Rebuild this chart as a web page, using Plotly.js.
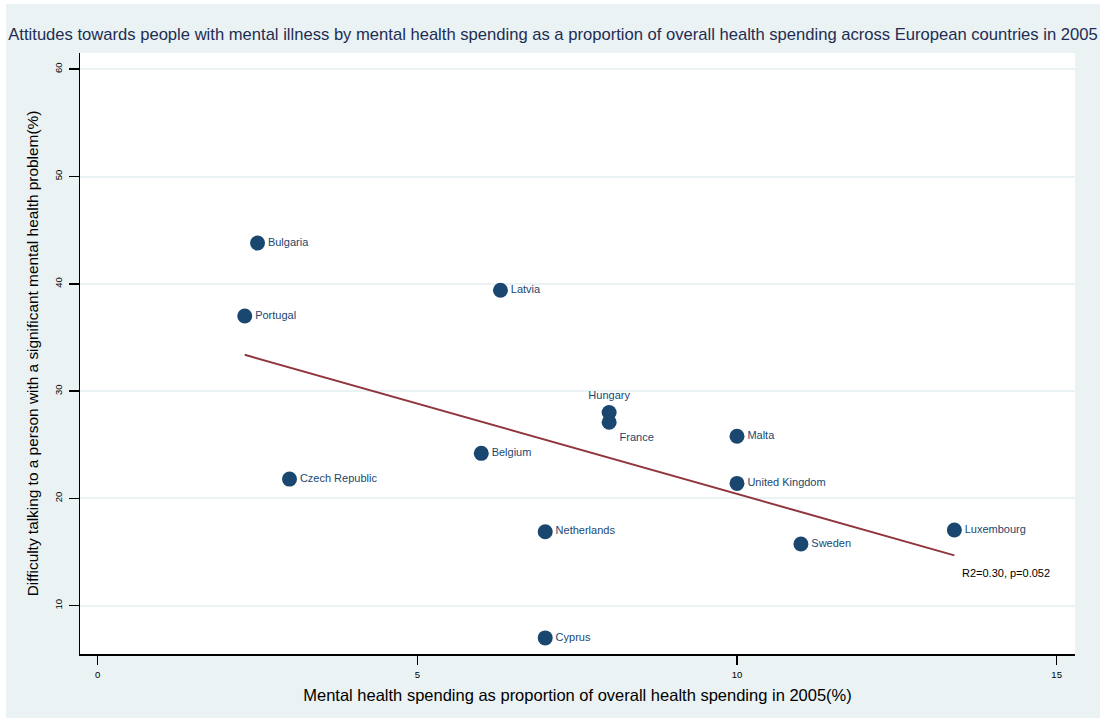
<!DOCTYPE html>
<html>
<head>
<meta charset="utf-8">
<script src="https://cdn.plot.ly/plotly-3.0.1.min.js"></script>
<style>
  html, body { margin: 0; padding: 0; background: #ffffff; }
  #chart { position: absolute; left: 6px; top: 4px; width: 1094px; height: 714px; }
</style>
</head>
<body>
<div id="chart"></div>
<script>
// Country-level values
const countries = ["Bulgaria", "Latvia", "Portugal", "Hungary", "France", "Malta", "Belgium",
                   "Czech Republic", "United Kingdom", "Netherlands", "Sweden", "Luxembourg", "Cyprus"];
// Mental health spending as % of overall health spending, 2005
const spending = [2.5, 6.3, 2.3, 8.0, 8.0, 10.0, 6.0, 3.0, 10.0, 7.0, 11.0, 13.4, 7.0];
// % reporting difficulty talking to a person with a significant mental health problem
const difficulty = [43.8, 39.4, 37.0, 28.0, 27.1, 25.8, 24.2, 21.8, 21.4, 16.9, 15.75, 17.05, 7.0];
// Where each marker label sits relative to its marker
const labelPos = ["middle right", "middle right", "middle right", "top center", "bottom right",
                  "middle right", "middle right", "middle right", "middle right", "middle right",
                  "middle right", "middle right", "middle right"];
const fitNote = "R2=0.30, p=0.052";
const xTicks = [0, 5, 10, 15];
const yTicks = [10, 20, 30, 40, 50, 60];

// Ordinary least squares fit of difficulty on spending
function olsFit(xs, ys) {
  const n = xs.length;
  const mx = xs.reduce((a, b) => a + b, 0) / n;
  const my = ys.reduce((a, b) => a + b, 0) / n;
  let sxy = 0, sxx = 0;
  for (let i = 0; i < n; i++) {
    sxy += (xs[i] - mx) * (ys[i] - my);
    sxx += (xs[i] - mx) * (xs[i] - mx);
  }
  const slope = sxy / sxx;
  return { slope: slope, intercept: my - slope * mx };
}
const fit = olsFit(spending, difficulty);
const xMin = Math.min(...spending), xMax = Math.max(...spending);
const fitX = [xMin, xMax];
const fitY = fitX.map(x => fit.intercept + fit.slope * x);

const navy = "#1a476f";
const maroon = "#90353b";
const bluishGray = "#eaf2f3";
const fontFam = "Liberation Sans, Arial, sans-serif";

const points = {
  type: "scatter",
  mode: "markers+text",
  x: spending,
  y: difficulty,
  text: countries,
  textposition: labelPos,
  textfont: { family: fontFam, size: 11, color: navy },
  marker: { color: navy, size: 15, line: { width: 0 } },
  hoverinfo: "text",
  showlegend: false,
  cliponaxis: false
};

const fitLine = {
  type: "scatter",
  mode: "lines",
  x: fitX,
  y: fitY,
  line: { color: maroon, width: 2 },
  hoverinfo: "skip",
  showlegend: false
};

const layout = {
  width: 1094,
  height: 714,
  paper_bgcolor: bluishGray,
  plot_bgcolor: "#ffffff",
  margin: { l: 74, r: 25, t: 49, b: 64 },
  font: { family: fontFam, color: "#000000" },
  title: {
    text: "Attitudes towards people with mental illness by mental health spending as a proportion of overall health spending across European countries in 2005",
    font: { size: 16.6, color: "#1e2d53", family: fontFam },
    x: 0.5,
    xanchor: "center",
    y: 1 - 30 / 714,
    yanchor: "middle",
    yref: "container"
  },
  xaxis: {
    range: [-0.277, 15.287],
    tickvals: xTicks,
    ticktext: xTicks.map(String),
    ticks: "outside",
    ticklen: 9,
    tickwidth: 1.5,
    tickcolor: "#000000",
    tickfont: { size: 9.5, color: "#000000" },
    ticklabelstandoff: 2,
    showline: true,
    linecolor: "#000000",
    linewidth: 1.5,
    showgrid: false,
    zeroline: false,
    title: {
      text: "Mental health spending as proportion of overall health spending in 2005(%)",
      font: { size: 16.5, color: "#000000" },
      standoff: 10
    }
  },
  yaxis: {
    range: [5.5, 61.51],
    tickvals: yTicks,
    ticktext: yTicks.map(String),
    ticks: "outside",
    ticklen: 10,
    tickwidth: 1.5,
    tickcolor: "#000000",
    tickangle: -90,
    tickfont: { size: 9.5, color: "#000000" },
    ticklabelstandoff: 3,
    showline: true,
    linecolor: "#000000",
    linewidth: 1.5,
    showgrid: true,
    gridcolor: bluishGray,
    gridwidth: 2,
    zeroline: false,
    title: {
      text: "Difficulty talking to a person with a significant mental health problem(%)",
      font: { size: 15.4, color: "#000000" },
      standoff: 10
    }
  },
  annotations: [{
    x: 13.49,
    y: 13.05,
    xref: "x",
    yref: "y",
    text: fitNote,
    showarrow: false,
    xanchor: "left",
    yanchor: "middle",
    font: { size: 11, color: "#000000" }
  }]
};

Plotly.newPlot("chart", [fitLine, points], layout, { displayModeBar: false, staticPlot: true });
</script>
</body>
</html>
